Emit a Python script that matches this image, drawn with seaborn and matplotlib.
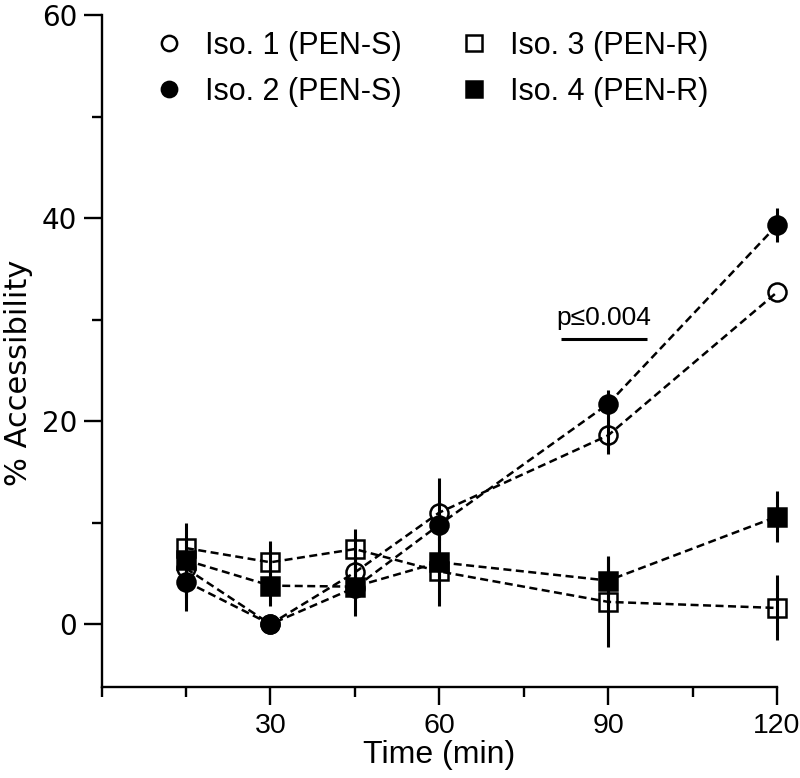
import seaborn as sns
import matplotlib.pyplot as plt
from matplotlib.lines import Line2D
from matplotlib.ticker import MultipleLocator

# time points (min)
time = [15, 30, 45, 60, 90, 120]

labels = ["Iso. 1 (PEN-S)", "Iso. 2 (PEN-S)", "Iso. 3 (PEN-R)", "Iso. 4 (PEN-R)"]

# % accessibility, mean and error per isolate
iso1 = [5.5, 0.0, 5.1, 11.0, 18.6, 32.7]
iso1_err = [1.0, 0.0, 1.0, 3.4, 1.8, 0.0]
iso2 = [4.2, 0.0, 3.6, 9.8, 21.7, 39.3]
iso2_err = [2.9, 0.0, 1.0, 1.5, 1.4, 1.7]
iso3 = [7.5, 6.1, 7.4, 5.2, 2.2, 1.6]
iso3_err = [1.0, 2.1, 2.0, 3.4, 4.4, 3.2]
iso4 = [6.3, 3.8, 3.7, 6.1, 4.3, 10.6]
iso4_err = [3.7, 2.0, 2.9, 1.5, 2.4, 2.5]

sig_label = "p\u22640.004"
sig_range = [81.7, 96.9]
sig_y = 28.1

sns.set_style("ticks")
plt.rcParams['font.family'] = ['Liberation Sans', 'DejaVu Sans']
plt.rcParams.update({'text.color': 'black', 'axes.labelcolor': 'black',
                     'xtick.color': 'black', 'ytick.color': 'black',
                     'axes.edgecolor': 'black'})

fig = plt.figure(figsize=(8, 7.78), dpi=100)
ax = fig.add_axes([0.1269, 0.1174, 0.8444, 0.8633])

# open markers first, filled on top
series = [
    (iso1, iso1_err, 'o', 'none'),
    (iso3, iso3_err, 's', 'none'),
    (iso2, iso2_err, 'o', 'black'),
    (iso4, iso4_err, 's', 'black'),
]
for y, err, mk, fc in series:
    eb = ax.errorbar(time, y, yerr=err, fmt='none', ecolor='black',
                     elinewidth=2.2, capsize=0, zorder=1.5)
    for c in eb[2]:
        c.set_clip_on(False)
    sns.lineplot(x=time, y=y, ax=ax, color='black', linewidth=1.8,
                 linestyle=(0, (3.2, 1.8)), marker=mk,
                 markersize=13 if mk == 'o' else 13.5,
                 markerfacecolor=fc, markeredgecolor='black',
                 markeredgewidth=1.8, legend=False, clip_on=False)

# significance bar
ax.plot(sig_range, [sig_y, sig_y], color='black', lw=2.2, solid_capstyle='butt')
ax.text(sum(sig_range) / 2, sig_y + 0.9, sig_label, ha='center', va='bottom',
        fontsize=19)

ax.set_xlim(0, 120)
ax.set_ylim(-6.15, 60)
ax.xaxis.set_major_locator(MultipleLocator(30))
ax.xaxis.set_minor_locator(MultipleLocator(15))
ax.yaxis.set_major_locator(MultipleLocator(20))
ax.yaxis.set_minor_locator(MultipleLocator(10))
ax.set_xticks([30, 60, 90, 120])
sns.despine(ax=ax)
for s in ['left', 'bottom']:
    ax.spines[s].set_linewidth(1.7)

ax.tick_params(which='major', length=13, width=1.7, color='black')
ax.tick_params(which='minor', length=7.5, width=1.7, color='black')
ax.tick_params(axis='x', which='major', pad=6, labelsize=20.5)
ax.tick_params(axis='y', which='major', pad=4.5)
for lab in ax.get_yticklabels():
    lab.set_family(['DejaVu Sans'])
    lab.set_fontsize(20)

ax.set_xlabel("Time (min)", fontsize=23, labelpad=1)
ax.set_ylabel("% Accessibility", fontsize=22, family=['DejaVu Sans'])
ax.yaxis.set_label_coords(-0.1014, 0.467)

handles = [
    Line2D([], [], ls='none', marker='o', ms=11, mfc='none', mec='black', mew=1.8),
    Line2D([], [], ls='none', marker='o', ms=11, mfc='black', mec='black', mew=1.8),
    Line2D([], [], ls='none', marker='s', ms=11, mfc='none', mec='black', mew=1.8),
    Line2D([], [], ls='none', marker='s', ms=11, mfc='black', mec='black', mew=1.8),
]
fig.legend(handles, labels, loc='upper left', ncol=2, frameon=False,
           fontsize=22, handlelength=0.8, handletextpad=0.78,
           columnspacing=1.95, labelspacing=0.52, borderpad=0, borderaxespad=0,
           bbox_to_anchor=(157 / 800, 1 - 31 / 778))

fig.savefig("out.png", dpi=100)
